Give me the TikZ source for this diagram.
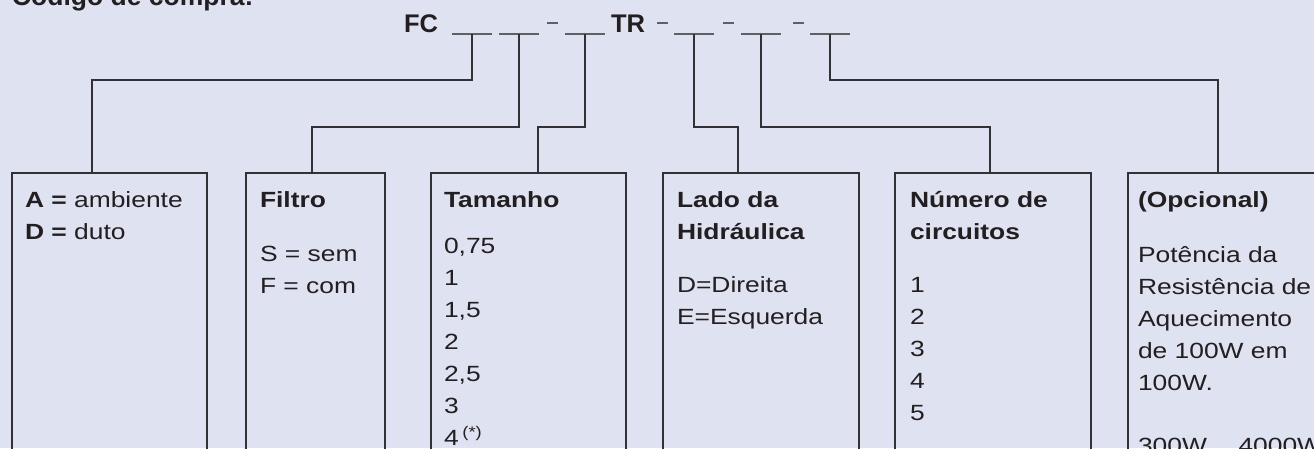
\documentclass[tikz,border=0pt]{standalone}
\usepackage{fontspec}
\setmainfont{Liberation Sans}
\newfontfamily\boxfont{Liberation Sans}[FakeStretch=1.2]
\usetikzlibrary{positioning}
\definecolor{bgColor}{RGB}{223,226,241}
\definecolor{drawColor}{RGB}{50,50,54}
\definecolor{slotColor}{RGB}{95,95,102}
\definecolor{textColor}{RGB}{35,31,32}
\tikzset{
  codebox/.style={draw=drawColor, line width=1.1pt, anchor=north west, inner sep=0pt, outer sep=0pt, minimum height=300pt},
  boxtext/.style={text=textColor, inner sep=0pt, outer sep=0pt, text width=190pt, align=left, font=\boxfont\fontsize{22}{32}\selectfont},
  codeletter/.style={text=textColor, anchor=base west, inner sep=0pt, outer sep=0pt, font=\bfseries\fontsize{25.5}{30}\selectfont},
  slot/.style={inner sep=0pt, outer sep=0pt, minimum width=40pt, minimum height=0pt},
  link/.style={draw=drawColor, line width=1.1pt},
}
\begin{document}
\begin{tikzpicture}[x=1pt,y=1pt]
\path[use as bounding box,fill=bgColor] (0,0) rectangle (1314,448);

% heading
\node[text=textColor,anchor=base west,inner sep=0pt,outer sep=0pt,font=\bfseries\fontsize{26.5}{30}\selectfont] (title) at (12,442) {Código de compra:};
\node[codeletter] (fc) at (404,415) {FC};
\node[codeletter] (tr) at (611,415) {TR};

% blanks of the code
\foreach \n/\x in {1/472,2/519,3/585,4/694,5/761,6/830}{
  \node[slot] (s\n) at (\x,414) {};
  \path[draw=slotColor,line width=1.2pt] (s\n.west) -- (s\n.east);
}
\foreach \x in {547,657,723,793}
  \path[draw=slotColor,line width=1.2pt] (\x,425) -- ++(11,0);

% boxes
\node[codebox,minimum width=195pt] (box1) at (12,275) {};
\node[codebox,minimum width=139pt] (box2) at (246,275) {};
\node[codebox,minimum width=195pt] (box3) at (431,275) {};
\node[codebox,minimum width=196pt] (box4) at (663,275) {};
\node[codebox,minimum width=196pt] (box5) at (895,275) {};
\node[codebox,minimum width=200pt] (box6) at (1128,275) {};

\node[boxtext,below right=11.6pt and 13pt of box1.north west] (txt1) {\strut\textbf{A =} ambiente\\\textbf{D =} duto};
\node[boxtext,below right=11.6pt and 14pt of box2.north west] (txt2) {\strut\textbf{Filtro}\\[22pt]S = sem\\F = com};
\node[boxtext,below right=11.6pt and 13pt of box3.north west] (txt3) {\strut\textbf{Tamanho}\\[14pt]0,75\\1\\1,5\\2\\2,5\\3\\4\,\textsuperscript{(*)}};
\node[boxtext,below right=11.6pt and 14pt of box4.north west] (txt4) {\strut\textbf{Lado da}\\\textbf{Hidráulica}\\[21pt]D=Direita\\E=Esquerda};
\node[boxtext,below right=11.6pt and 15pt of box5.north west] (txt5) {\strut\textbf{Número de}\\\textbf{circuitos}\\[21pt]1\\2\\3\\4\\5};
\node[boxtext,below right=11.6pt and 10pt of box6.north west] (txt6) {\strut\textbf{(Opcional)}\\[23pt]Potência da\\Resistência de\\Aquecimento\\de 100W em\\100W.\\[31pt]300W... 4000W};

% links from the blanks to the boxes
\foreach \n/\d/\dx in {1/46/80,2/93/66,3/93/107,4/93/75,5/93/95,6/46/90}
  \draw[link] (s\n.center) -- ++(0,-\d) -| ([xshift=\dx pt]box\n.north west);
\end{tikzpicture}
\end{document}
